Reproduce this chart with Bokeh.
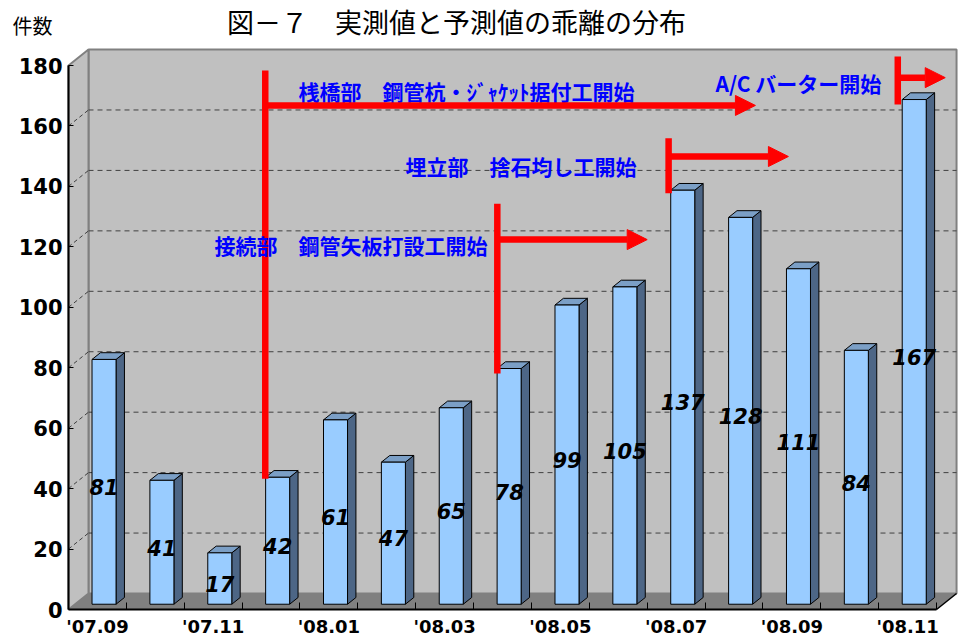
from bokeh.plotting import figure
from bokeh.models import Range1d, FixedTicker, Label, Arrow, NormalHead, LinearAxis
from bokeh.core.properties import value
from bokeh.embed import file_html
from bokeh.resources import INLINE

# ---- data -------------------------------------------------------------
months = ["'07.09", "'07.10", "'07.11", "'07.12", "'08.01", "'08.02", "'08.03",
          "'08.04", "'08.05", "'08.06", "'08.07", "'08.08", "'08.09", "'08.10", "'08.11"]
counts = [81, 41, 17, 42, 61, 47, 65, 78, 99, 105, 137, 128, 111, 84, 167]
y_ticks = [0, 20, 40, 60, 80, 100, 120, 140, 160, 180]
shown_months = months[::2]

milestone_texts = ["桟橋部　鋼管杭・ｼﾞｬｹｯﾄ据付工開始",
                   "接続部　鋼管矢板打設工開始",
                   "埋立部　捨石均し工開始",
                   "A/C バーター開始"]

# ---- geometry of the pseudo-3D box -------------------------------------
N = len(counts)
PX_X, PX_Y = 57.87, 3.022          # pixels per category / per count
DX, DY = 20 / PX_X, 16 / PX_Y      # depth offset of the back wall in data units
BAR_W = 0.415
T0, T1 = 0.33, 0.75                # bar depth (fraction of the box depth)

FONT = "Noto Sans CJK JP"

# the frame fills the whole canvas; the axes are pinned at x=0 / y=0
p = figure(width=964, height=639,
           x_range=Range1d(-68 / PX_X, 896 / PX_X),
           y_range=Range1d(-30 / PX_Y, 609 / PX_Y),
           x_axis_location=None, y_axis_location=None,
           output_backend="svg", toolbar_location=None,
           min_border=0)
p.outline_line_color = None
p.grid.visible = False
p.background_fill_color = "white"
p.border_fill_color = "white"

WALL = "#c0c0c0"
EDGE = "#808080"

# back wall, left wall and floor
p.patch([DX, N + DX, N + DX, DX], [DY, DY, 180 + DY, 180 + DY],
        fill_color=WALL, line_color=EDGE, line_width=2)
p.patch([0, DX, DX, 0], [0, DY, 180 + DY, 180],
        fill_color=WALL, line_color=EDGE, line_width=2)
p.patch([0, N, N + DX, DX], [0, 0, DY, DY], fill_color="#808080", line_color=None)
p.segment(x0=[N], y0=[0], x1=[N + DX], y1=[DY], line_color="black", line_width=1.5)

# dashed grid on the walls
grid_vals = y_ticks[1:-1]
p.segment(x0=[DX] * len(grid_vals), y0=[v + DY for v in grid_vals],
          x1=[N + DX] * len(grid_vals), y1=[v + DY for v in grid_vals],
          line_color="#404040", line_width=1, line_dash="5 4")
p.segment(x0=[0] * len(grid_vals), y0=grid_vals,
          x1=[DX] * len(grid_vals), y1=[v + DY for v in grid_vals],
          line_color="#404040", line_width=1, line_dash="4 3")

# bars: front face, right side and top
d = T1 - T0
lefts = [i + 0.5 - BAR_W / 2 + T0 * DX for i in range(N)]
rights = [l + BAR_W for l in lefts]
base = T0 * DY
tops = [v + base for v in counts]

side_xs = [[r, r + d * DX, r + d * DX, r] for r in rights]
side_ys = [[base, base + d * DY, t + d * DY, t] for t in tops]
top_xs = [[l, r, r + d * DX, l + d * DX] for l, r in zip(lefts, rights)]
top_ys = [[t, t, t + d * DY, t + d * DY] for t in tops]

p.patches(side_xs, side_ys, fill_color="#4d6686", line_color="black", line_width=1)
p.patches(top_xs, top_ys, fill_color="#7b9fc6", line_color="black", line_width=1)
p.quad(left=lefts, right=rights, bottom=[base] * N, top=tops,
       fill_color="#99ccff", line_color="black", line_width=1)

# value labels inside the bars
p.text(x=[(l + r) / 2 for l, r in zip(lefts, rights)], y=[v / 2 for v in counts],
       text=[str(v) for v in counts], text_align="center", text_baseline="middle",
       text_font=value("DejaVu Sans"), text_font_size="21px",
       text_font_style="bold italic", text_color="black")

# construction milestones (red arrows with blue captions)
RED = "#ff0000"
stems = [(3.40, 43.3, 178.4), (7.41, 78.1, 134.3), (10.37, 137.7, 155.9), (14.33, 167.1, 183.0)]
shafts = [(3.40, 166.8, 11.87), (7.41, 122.4, 10.0), (10.37, 149.9, 12.44), (14.33, 176.0, 15.15)]
captions = [(3.974, 171.7), (2.523, 120.5), (5.823, 146.6), (11.18, 174.1)]

p.segment(x0=[s[0] for s in stems], y0=[s[1] for s in stems],
          x1=[s[0] for s in stems], y1=[s[2] for s in stems],
          line_color=RED, line_width=6.5)
for x0, y, x1 in shafts:
    p.add_layout(Arrow(end=NormalHead(size=20, fill_color=RED, line_color=RED, line_width=1),
                       x_start=x0, y_start=y, x_end=x1, y_end=y,
                       line_color=RED, line_width=6.5))
p.text(x=[c[0] for c in captions], y=[c[1] for c in captions], text=milestone_texts,
       text_align="left", text_baseline="middle", text_font=value(FONT),
       text_font_size="21px", text_font_style="bold", text_color="#0000ff")

# axes
yaxis = LinearAxis(fixed_location=0, ticker=FixedTicker(ticks=y_ticks), bounds=(0, 180))
yaxis.axis_line_width = 2
yaxis.major_tick_in = 5
yaxis.major_tick_out = 0
yaxis.minor_tick_line_color = None
yaxis.major_label_standoff = 6
yaxis.major_label_text_font = "DejaVu Sans"
yaxis.major_label_text_font_style = "bold"
yaxis.major_label_text_font_size = "21px"
yaxis.major_label_text_color = "black"
p.add_layout(yaxis, "left")

label_pos = [i * 2 + 0.5 for i in range(len(shown_months))]
xaxis = LinearAxis(fixed_location=0,
                   ticker=FixedTicker(ticks=label_pos, minor_ticks=list(range(1, N + 1))),
                   bounds=(0, N))
xaxis.major_label_overrides = {pos: lab for pos, lab in zip(label_pos, shown_months)}
xaxis.axis_line_width = 2
xaxis.major_tick_line_color = None
xaxis.minor_tick_in = 7
xaxis.minor_tick_out = 0
xaxis.minor_tick_line_color = "black"
xaxis.major_label_standoff = 0
xaxis.major_label_text_font = "DejaVu Sans"
xaxis.major_label_text_font_style = "bold"
xaxis.major_label_text_font_size = "18px"
xaxis.major_label_text_color = "black"
p.add_layout(xaxis, "below")

# chart title and unit
p.add_layout(Label(x=6.705, y=194.6, text="図－７　実測値と予測値の乖離の分布",
                   text_align="center", text_baseline="middle",
                   text_font=FONT, text_font_size="27px", text_color="black"))
p.add_layout(Label(x=-0.968, y=193.2, text="件数", text_align="left",
                   text_baseline="middle", text_font=FONT, text_font_size="20px",
                   text_color="black"))

open("out.html", "w").write(file_html(p, INLINE))
